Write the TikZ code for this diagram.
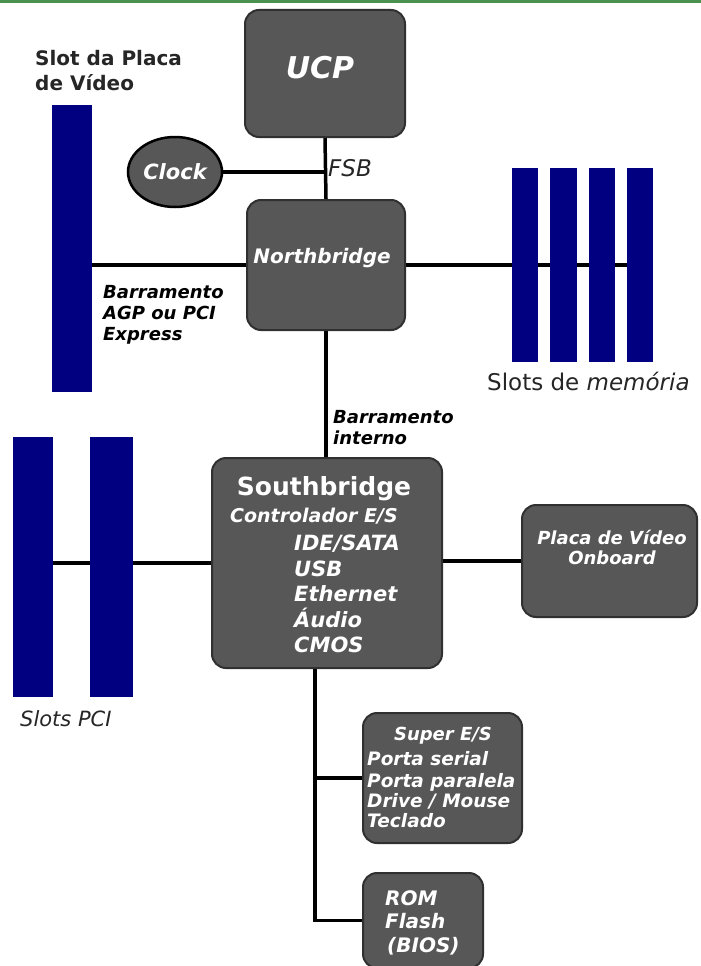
\documentclass[tikz,border=0pt]{standalone}
\usepackage{fontspec}
\setmainfont{DejaVu Sans}
\usetikzlibrary{shapes.geometric,backgrounds}
\definecolor{boxgray}{HTML}{575757}
\definecolor{boxedge}{HTML}{303030}
\definecolor{slotblue}{HTML}{000080}
\definecolor{topgreen}{HTML}{4A9150}
\newcommand{\fsz}[1]{\fontsize{#1}{#1}\selectfont}
\begin{document}
\begin{tikzpicture}[x=1pt,y=-1pt,
  box/.style={draw=boxedge, line width=2pt, fill=boxgray, rounded corners=14pt, inner sep=0pt},
  slot/.style={fill=slotblue, draw=none, inner sep=0pt},
  bus/.style={line width=3.5pt, black},
  wtxt/.style={text=white, font=\bfseries\itshape, inner sep=0pt},
  ktxt/.style={text=black, font=\bfseries\itshape, inner sep=0pt, align=left},
  rtxt/.style={text=black!85, inner sep=0pt, align=left},
]
\useasboundingbox (0,0) rectangle (701,966);

% slots
\node[slot, minimum width=40pt, minimum height=287pt] (vslot) at (72,248.5) {};
\node[slot, minimum width=26pt, minimum height=194pt] (mem1) at (525,265) {};
\node[slot, minimum width=27pt, minimum height=194pt] (mem2) at (563.5,265) {};
\node[slot, minimum width=26pt, minimum height=194pt] (mem3) at (602,265) {};
\node[slot, minimum width=26pt, minimum height=194pt] (mem4) at (640,265) {};
\node[slot, minimum width=40pt, minimum height=260pt] (pci1) at (33,567) {};
\node[slot, minimum width=43pt, minimum height=260pt] (pci2) at (111.5,567) {};

% boxes
\node[box, minimum width=160pt, minimum height=127pt] (ucp) at (325,73.5) {};
\node[box, minimum width=158pt, minimum height=130pt] (nb) at (326,265) {};
\node[box, minimum width=230pt, minimum height=210pt] (sb) at (327,563) {};
\node[box, minimum width=175pt, minimum height=112pt] (onb) at (609.5,561) {};
\node[box, minimum width=159pt, minimum height=130pt] (sio) at (442.5,778) {};
\node[box, minimum width=120pt, minimum height=95pt] (rom) at (423,920.5) {};
\node[ellipse, draw=black, line width=2.5pt, fill=boxgray, minimum width=94pt, minimum height=70pt, inner sep=0pt] (clock) at (175,172) {};

% connectors, under slots and boxes
\coordinate (trunk) at ([xshift=-12pt]sb.south);
\begin{scope}[on background layer]
\fill[white] (0,0) rectangle (701,966);
\fill[topgreen] (0,0) rectangle (701,3);
\draw[bus] (ucp.south) -- (nb.north);
\draw[bus] (clock.east) -- (clock.east -| ucp.south);
\draw[bus] (nb.west) -- (nb.west -| vslot.east);
\draw[bus] (nb.east) -- (nb.east -| mem4.west);
\draw[bus] (nb.south) -- (nb.south |- sb.north);
\draw[bus] (sb.west) -- (sb.west -| pci1.east);
\draw[bus] (sb.east |- onb.west) -- (onb.west);
\draw[bus] (trunk) |- (rom.west);
\draw[bus] (trunk |- sio.west) -- (sio.west);
\end{scope}

% texts
\node[wtxt, font=\bfseries\itshape\fsz{30}] (tucp) at (320,68) {UCP};
\node[wtxt, font=\bfseries\itshape\fsz{21}] (tclock) at (175,172) {Clock};
\node[rtxt, font=\itshape\fsz{23}, anchor=west] (tfsb) at (328,168) {FSB};
\node[wtxt, font=\bfseries\itshape\fsz{20}] (tnb) at (322,258) {Northbridge};

\node[rtxt, font=\bfseries\fsz{20}, anchor=base west] (tvs1) at (35,66) {Slot da Placa};
\node[rtxt, font=\bfseries\fsz{20}, anchor=base west] (tvs2) at (35,90) {de Vídeo};

\node[ktxt, font=\bfseries\itshape\fsz{18}, anchor=base west] (tagp1) at (103,298) {Barramento};
\node[ktxt, font=\bfseries\itshape\fsz{18}, anchor=base west] (tagp2) at (103,319) {AGP ou PCI};
\node[ktxt, font=\bfseries\itshape\fsz{18}, anchor=base west] (tagp3) at (103,340) {Express};

\node[ktxt, font=\bfseries\itshape\fsz{18}, anchor=base west] (tbi1) at (333,423) {Barramento};
\node[ktxt, font=\bfseries\itshape\fsz{18}, anchor=base west] (tbi2) at (333,444) {interno};

\node[rtxt, font=\fsz{23}, anchor=base west] (tmem) at (487,390) {Slots de \textit{memória}};
\node[rtxt, font=\itshape\fsz{21}, anchor=base west] (tpci) at (20,726) {Slots PCI};

\node[wtxt, font=\bfseries\fsz{25}, anchor=base] (tsb) at (324,495) {Southbridge};
\node[wtxt, font=\bfseries\itshape\fsz{19}, anchor=base west] (tctl) at (230,522) {Controlador E/S};
\node[wtxt, font=\bfseries\itshape\fsz{21}, anchor=base west] (ti1) at (294,550) {IDE/SATA};
\node[wtxt, font=\bfseries\itshape\fsz{21}, anchor=base west] (ti2) at (294,576) {USB};
\node[wtxt, font=\bfseries\itshape\fsz{21}, anchor=base west] (ti3) at (294,601) {Ethernet};
\node[wtxt, font=\bfseries\itshape\fsz{21}, anchor=base west] (ti4) at (294,627) {Áudio};
\node[wtxt, font=\bfseries\itshape\fsz{21}, anchor=base west] (ti5) at (294,652) {CMOS};

\node[wtxt, font=\bfseries\itshape\fsz{18}, anchor=base] (to1) at (612,544) {Placa de Vídeo};
\node[wtxt, font=\bfseries\itshape\fsz{18}, anchor=base] (to2) at (612,564) {Onboard};

\node[wtxt, font=\bfseries\itshape\fsz{18}, anchor=base] (ts0) at (443,740) {Super E/S};
\node[wtxt, font=\bfseries\itshape\fsz{18.5}, anchor=base west] (ts1) at (367,765) {Porta serial};
\node[wtxt, font=\bfseries\itshape\fsz{18.5}, anchor=base west] (ts2) at (367,787) {Porta paralela};
\node[wtxt, font=\bfseries\itshape\fsz{18.5}, anchor=base west] (ts3) at (367,807) {Drive / Mouse};
\node[wtxt, font=\bfseries\itshape\fsz{18.5}, anchor=base west] (ts4) at (367,827) {Teclado};

\node[wtxt, font=\bfseries\itshape\fsz{20}, anchor=base west] (tr1) at (385,905) {ROM};
\node[wtxt, font=\bfseries\itshape\fsz{20}, anchor=base west] (tr2) at (385,928) {Flash};
\node[wtxt, font=\bfseries\itshape\fsz{20}, anchor=base west] (tr3) at (387,952) {(BIOS)};
\end{tikzpicture}
\end{document}
